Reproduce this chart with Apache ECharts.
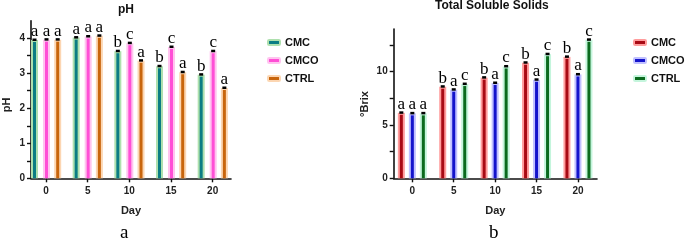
<!DOCTYPE html>
<html>
<head>
<meta charset="utf-8">
<script src="https://cdn.jsdelivr.net/npm/echarts@6/dist/echarts.min.js"></script>
<style>
  html, body { margin: 0; padding: 0; background: #fff; }
  #wrap { width: 685px; height: 243px; position: relative; }
  #chartA { position: absolute; left: 0; top: 0; width: 342px; height: 243px; }
  #chartB { position: absolute; left: 342px; top: 0; width: 343px; height: 243px; }
</style>
</head>
<body>
<div id="wrap">
  <div id="chartA"></div>
  <div id="chartB"></div>
</div>
<script>
// shared x values (days)
var days = [0, 5, 10, 15, 20];
var seriesNames = ["CMC", "CMCO", "CTRL"];

// pH panel
var phCMC = [3.92, 3.99, 3.6, 3.17, 2.93];
var phCMCO = [3.93, 4.02, 3.83, 3.72, 3.6];
var phCTRL = [3.93, 4.04, 3.33, 3.0, 2.55];
var phLetters = [
  ["a", "a", "b", "b", "b"],
  ["a", "a", "c", "c", "c"],
  ["a", "a", "a", "a", "a"]
];
var phTicks = [0, 0.5, 1, 1.5, 2, 2.5, 3, 3.5, 4];
var phLabels = [0, 1, 2, 3, 4];

// Total soluble solids panel
var tssCMC = [6.05, 8.5, 9.35, 10.75, 11.3];
var tssCMCO = [6.0, 8.22, 8.85, 9.15, 9.65];
var tssCTRL = [6.0, 8.75, 10.4, 11.55, 12.9];
var tssLetters = [
  ["a", "b", "b", "b", "b"],
  ["a", "a", "a", "a", "a"],
  ["a", "c", "c", "c", "c"]
];
var tssTicks = [0, 2.5, 5, 7.5, 10, 12.5];
var tssLabels = [0, 5, 10];

// grouped bar drawn as light halo + dark core + small black cap + letter
function makeSeries(name, vals, letters, fill, edge, shift) {
  return {
    name: name,
    type: "custom",
    data: days.map(function (d, i) { return [d, vals[i]]; }),
    encode: { x: 0, y: 1 },
    itemStyle: { color: fill, borderColor: edge, borderWidth: 2 },
    renderItem: function (params, api) {
      var top = api.coord([api.value(0), api.value(1)]);
      var base = api.coord([api.value(0), 0]);
      var cx = top[0] + shift;
      var h = base[1] - top[1];
      return {
        type: "group",
        children: [
          { type: "rect", shape: { x: cx - 3.5, y: top[1] - 1, width: 7, height: h + 1 }, style: { fill: edge } },
          { type: "rect", shape: { x: cx - 1.5, y: top[1] + 1, width: 3, height: h - 1 }, style: { fill: fill } },
          { type: "rect", shape: { x: cx - 2, y: top[1] - 2.5, width: 4, height: 2.5 }, style: { fill: "#000" } },
          { type: "text", x: cx, y: top[1] - 1,
            style: { text: letters[params.dataIndex], fill: "#000", font: "17px 'Liberation Serif'",
                     align: "center", verticalAlign: "bottom" } }
        ]
      };
    }
  };
}

function axisCommon() {
  return {
    axisLine: { onZero: false, lineStyle: { color: "#111", width: 1.6 } },
    axisTick: { length: 4, lineStyle: { color: "#111", width: 1.4 } },
    axisLabel: { color: "#222", fontFamily: "Liberation Sans", fontWeight: "bold", fontSize: 10, margin: 6 },
    splitLine: { show: false },
    nameTextStyle: { color: "#222", fontFamily: "Liberation Sans", fontWeight: "bold", fontSize: 11 }
  };
}

function buildOption(cfg) {
  var xa = axisCommon();
  xa.type = "value";
  xa.min = cfg.xMin;
  xa.max = cfg.xMax;
  xa.name = "Day";
  xa.nameLocation = "middle";
  xa.nameGap = 27;
  xa.axisTick.customValues = days;
  xa.axisLabel.customValues = days;
  xa.axisLabel.margin = 8;

  var ya = axisCommon();
  ya.type = "value";
  ya.min = 0;
  ya.max = cfg.yMax;
  ya.axisTick.customValues = cfg.yTicks;
  ya.axisLabel.customValues = cfg.yLabels;

  return {
    animation: false,
    graphic: [
      { type: "text", left: cfg.titleX, top: cfg.titleY,
        style: { text: cfg.title, font: "bold 12px 'Liberation Sans'", fill: "#111", textAlign: "center" } },
      { type: "text", x: cfg.yNameX, y: cfg.yNameY, rotation: Math.PI / 2,
        style: { text: cfg.yName, font: "bold 11px 'Liberation Sans'", fill: "#222",
                 align: "center", verticalAlign: "middle" } },
      { type: "text", left: cfg.capX, top: 224,
        style: { text: cfg.caption, font: "19px 'Liberation Serif'", fill: "#000", textAlign: "center" } }
    ],
    legend: {
      orient: "vertical",
      left: cfg.legendX,
      top: 32,
      itemWidth: 12,
      itemHeight: 5,
      itemGap: 7,
      textStyle: { color: "#111", fontFamily: "Liberation Sans", fontWeight: "bold", fontSize: 11 },
      data: seriesNames
    },
    grid: { left: cfg.gridLeft, top: cfg.gridTop, width: cfg.gridWidth, height: cfg.gridHeight,
            outerBoundsMode: "none", containLabel: false },
    xAxis: xa,
    yAxis: ya,
    series: [
      makeSeries("CMC", cfg.vals[0], cfg.letters[0], cfg.fills[0], cfg.edges[0], cfg.shifts[0]),
      makeSeries("CMCO", cfg.vals[1], cfg.letters[1], cfg.fills[1], cfg.edges[1], cfg.shifts[1]),
      makeSeries("CTRL", cfg.vals[2], cfg.letters[2], cfg.fills[2], cfg.edges[2], cfg.shifts[2])
    ]
  };
}

var chartA = echarts.init(document.getElementById("chartA"));
chartA.setOption(buildOption({
  title: "pH", titleX: 118, titleY: 4,
  caption: "a", capX: 120,
  legendX: 262,
  gridLeft: 31, gridTop: 20.7, gridWidth: 200, gridHeight: 157.6,
  xMin: -1.8, xMax: 22.2,
  yMax: 4.5, yName: "pH", yNameX: 7, yNameY: 105,
  yTicks: phTicks, yLabels: phLabels,
  vals: [phCMC, phCMCO, phCTRL],
  letters: phLetters,
  shifts: [-11.5, 0.5, 11.7],
  fills: ["#0b7d84", "#ff4fd6", "#c8650c"],
  edges: ["#aee0ae", "#ffc4ef", "#fcd6b2"]
}));

var chartB = echarts.init(document.getElementById("chartB"));
chartB.setOption(buildOption({
  title: "Total Soluble Solids", titleX: 93, titleY: 0,
  caption: "b", capX: 147,
  legendX: 286,
  gridLeft: 51.7, gridTop: 29.1, gridWidth: 203.3, gridHeight: 149.2,
  xMin: -2.25, xMax: 22.3,
  yMax: 14, yName: "°Brix", yNameX: 23, yNameY: 104,
  yTicks: tssTicks, yLabels: tssLabels,
  vals: [tssCMC, tssCMCO, tssCTRL],
  letters: tssLetters,
  shifts: [-11, 0, 11],
  fills: ["#a80a14", "#1414cc", "#0b6b1e"],
  edges: ["#ff9c9c", "#c0c0ff", "#c4f5dc"]
}));
</script>
</body>
</html>
